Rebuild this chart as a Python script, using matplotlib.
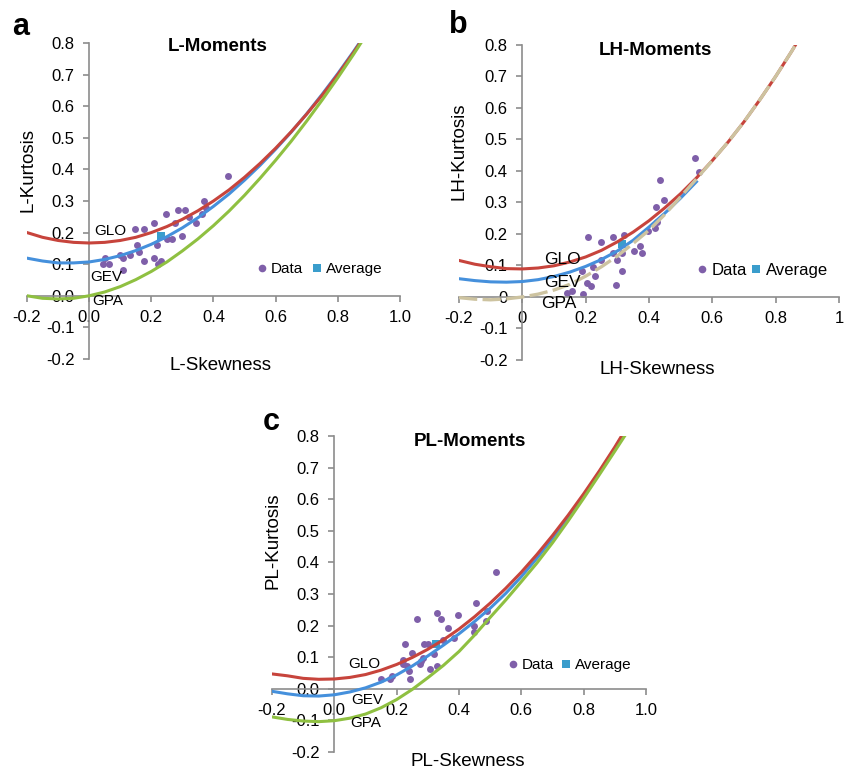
import matplotlib
matplotlib.use('Agg')
import matplotlib.pyplot as plt
from matplotlib.lines import Line2D

plt.rcParams['font.family'] = ['Liberation Sans', 'DejaVu Sans']

# --- skewness grid the theoretical curves were read at ---
sk = [-0.2, -0.15, -0.1, -0.05, 0.0, 0.05, 0.1, 0.15, 0.2, 0.25, 0.3, 0.35,
      0.4, 0.45, 0.5, 0.55, 0.6, 0.65, 0.7, 0.75, 0.8, 0.85, 0.9]
sk_long = sk + [0.95]
sk_short = sk[:16]

# --- a: L-moments ---
glo_a = [0.200, 0.185, 0.175, 0.169, 0.167, 0.169, 0.175, 0.185, 0.200, 0.219, 0.242, 0.269,
         0.300, 0.335, 0.375, 0.419, 0.467, 0.519, 0.575, 0.635, 0.700, 0.769, 0.842]
gev_a = [0.119, 0.110, 0.104, 0.104, 0.107, 0.115, 0.127, 0.143, 0.163, 0.187, 0.215, 0.247,
         0.283, 0.322, 0.366, 0.413, 0.464, 0.518, 0.576, 0.638, 0.703, 0.772, 0.844]
gpa_a = [0.000, -0.008, -0.010, -0.008, 0.000, 0.012, 0.029, 0.051, 0.077, 0.107, 0.142, 0.180,
         0.222, 0.268, 0.318, 0.372, 0.429, 0.489, 0.553, 0.620, 0.690, 0.763, 0.839]
skew_a = [0.448, 0.368, 0.376, 0.364, 0.287, 0.309, 0.248, 0.322, 0.275, 0.343, 0.209, 0.148,
          0.178, 0.298, 0.250, 0.266, 0.218, 0.154, 0.159, 0.132, 0.098, 0.109, 0.052, 0.209,
          0.046, 0.065, 0.175, 0.231, 0.220, 0.109]
kurt_a = [0.379, 0.300, 0.279, 0.260, 0.270, 0.270, 0.260, 0.250, 0.230, 0.230, 0.230, 0.210,
          0.210, 0.190, 0.180, 0.180, 0.160, 0.160, 0.140, 0.130, 0.130, 0.120, 0.120, 0.120,
          0.100, 0.100, 0.110, 0.110, 0.100, 0.080]
avg_a = (0.232, 0.190)

# --- b: LH-moments ---
glo_b = [0.116, 0.104, 0.096, 0.090, 0.089, 0.092, 0.099, 0.111, 0.127, 0.148, 0.175, 0.206,
         0.242, 0.283, 0.328, 0.378, 0.433, 0.492, 0.556, 0.626, 0.700, 0.779, 0.862]
gev_b = [0.058, 0.052, 0.048, 0.047, 0.049, 0.055, 0.065, 0.079, 0.097, 0.119, 0.146, 0.180,
         0.222, 0.266, 0.314, 0.366]
gpa_b = [-0.002, -0.007, -0.009, -0.006, 0.000, 0.009, 0.022, 0.040, 0.066, 0.096, 0.130, 0.170,
         0.212, 0.262, 0.318, 0.375, 0.433, 0.492, 0.556, 0.626, 0.700, 0.779, 0.862]
skew_b = [0.545, 0.435, 0.559, 0.447, 0.422, 0.424, 0.419, 0.396, 0.372, 0.379, 0.354, 0.287,
          0.322, 0.208, 0.248, 0.314, 0.300, 0.316, 0.247, 0.223, 0.229, 0.205, 0.216, 0.295,
          0.191, 0.142, 0.156, 0.187, 0.287]
kurt_b = [0.440, 0.371, 0.398, 0.308, 0.285, 0.237, 0.218, 0.210, 0.163, 0.141, 0.146, 0.189,
          0.197, 0.189, 0.176, 0.139, 0.117, 0.084, 0.117, 0.096, 0.067, 0.043, 0.036, 0.038,
          0.010, 0.014, 0.019, 0.084, 0.139]
avg_b = (0.316, 0.168)

# --- c: PL-moments ---
glo_c = [0.047, 0.041, 0.033, 0.030, 0.031, 0.036, 0.045, 0.059, 0.077, 0.099, 0.125, 0.155,
         0.189, 0.228, 0.271, 0.318, 0.369, 0.425, 0.485, 0.549, 0.617, 0.689, 0.765, 0.846]
gev_c = [-0.008, -0.016, -0.022, -0.023, -0.019, -0.010, 0.003, 0.021, 0.044, 0.072, 0.104, 0.138,
         0.174, 0.213, 0.255, 0.302, 0.355, 0.413, 0.476, 0.543, 0.612, 0.685, 0.761, 0.842]
gpa_c = [-0.089, -0.097, -0.102, -0.104, -0.101, -0.093, -0.080, -0.060, -0.034, -0.002, 0.035, 0.074,
         0.118, 0.170, 0.226, 0.281, 0.339, 0.398, 0.462, 0.531, 0.603, 0.677, 0.752, 0.828]
skew_c = [0.518, 0.454, 0.489, 0.486, 0.448, 0.448, 0.398, 0.330, 0.342, 0.264, 0.364, 0.385,
          0.350, 0.227, 0.289, 0.299, 0.248, 0.321, 0.285, 0.275, 0.221, 0.232, 0.239, 0.242,
          0.307, 0.328, 0.149, 0.178, 0.186, 0.219, 0.278]
kurt_c = [0.371, 0.270, 0.247, 0.213, 0.199, 0.181, 0.232, 0.241, 0.220, 0.220, 0.192, 0.160,
          0.155, 0.141, 0.142, 0.142, 0.113, 0.111, 0.097, 0.078, 0.078, 0.071, 0.055, 0.032,
          0.062, 0.073, 0.032, 0.032, 0.041, 0.092, 0.089]
avg_c = (0.326, 0.142)

x_ticks = [-0.2, 0.0, 0.2, 0.4, 0.6, 0.8, 1.0]
y_ticks = [-0.2, -0.1, 0.0, 0.1, 0.2, 0.3, 0.4, 0.5, 0.6, 0.7, 0.8]
x_lab_dec = ['-0.2', '0.0', '0.2', '0.4', '0.6', '0.8', '1.0']
y_lab_dec = ['-0.2', '-0.1', '0.0', '0.1', '0.2', '0.3', '0.4', '0.5', '0.6', '0.7', '0.8']
x_lab_gen = ['-0.2', '0', '0.2', '0.4', '0.6', '0.8', '1']
y_lab_gen = ['-0.2', '-0.1', '0', '0.1', '0.2', '0.3', '0.4', '0.5', '0.6', '0.7', '0.8']

RED = '#c7443c'
BLUE = '#4590dc'
GREEN = '#8fc041'
TAN = '#cdc3a0'
PURPLE = '#7f5fa9'
AQUA = '#3a9dcc'
GRAY = '#8c8c8c'


def setup(ax, xl, yl):
    ax.set_xlim(-0.2, 1.0)
    ax.set_ylim(-0.2, 0.8)
    for s in ['top', 'right']:
        ax.spines[s].set_visible(False)
    ax.spines['left'].set_position(('data', 0))
    ax.spines['bottom'].set_position(('data', 0))
    for s in ['left', 'bottom']:
        ax.spines[s].set_color(GRAY)
        ax.spines[s].set_linewidth(1.2)
    ax.set_xticks(x_ticks)
    ax.set_xticklabels(xl)
    ax.set_yticks(y_ticks)
    ax.set_yticklabels(yl)
    ax.tick_params(direction='out', length=4, width=1.2, color=GRAY, labelsize=12)
    ax.tick_params(axis='x', pad=6)
    ax.tick_params(axis='y', pad=6.5)
    ax.patch.set_alpha(0)


def scatter(ax, xs, ys, avg):
    ax.plot(xs, ys, 'o', color=PURPLE, markersize=5, markeredgewidth=0, zorder=2)
    ax.plot([avg[0]], [avg[1]], 's', color=AQUA, markersize=6, markeredgewidth=0, zorder=2)


def legend(ax, x, y, size, colsp):
    h = [Line2D([], [], marker='o', ls='none', color=PURPLE, markersize=5.5, markeredgewidth=0),
         Line2D([], [], marker='s', ls='none', color=AQUA, markersize=6, markeredgewidth=0)]
    ax.legend(h, ['Data', 'Average'], loc='center left', bbox_to_anchor=(x, y), ncol=2,
              frameon=False, fontsize=size, handlelength=0.6, handletextpad=0.3,
              columnspacing=colsp, borderpad=0, borderaxespad=0)


fig = plt.figure(figsize=(8.49, 7.7), dpi=100)

# panel a
ax = fig.add_axes([0.0318, 0.5338, 0.4393, 0.4104])
setup(ax, x_lab_dec, y_lab_dec)
scatter(ax, skew_a, kurt_a, avg_a)
ax.plot(sk, gev_a, color=BLUE, lw=2.2, zorder=3)
ax.plot(sk, glo_a, color=RED, lw=2.2, zorder=3)
ax.plot(sk, gpa_a, color=GREEN, lw=2.2, zorder=3)
ax.text(0.412, 0.79, 'L-Moments', fontsize=13.5, fontweight='bold', ha='center', va='center')
ax.text(0.016, 0.205, 'GLO', fontsize=11, va='center')
ax.text(0.004, 0.059, 'GEV', fontsize=11, va='center')
ax.text(0.010, -0.017, 'GPA', fontsize=11, va='center')
legend(ax, 0.617, 0.285, 11, 0.6)
fig.text(0.0244, 0.9653, 'a', fontsize=22, fontweight='bold', ha='center', va='center')
fig.text(0.033, 0.7786, 'L-Kurtosis', fontsize=13.5, rotation=90, ha='center', va='center')
fig.text(0.2597, 0.5247, 'L-Skewness', fontsize=13.5, ha='center', va='center')

# panel b
ax = fig.add_axes([0.5406, 0.5325, 0.4476, 0.4091])
setup(ax, x_lab_gen, y_lab_gen)
scatter(ax, skew_b, kurt_b, avg_b)
ax.plot(sk, glo_b, color=RED, lw=2.2, zorder=3)
ax.plot(sk_short, gev_b, color=BLUE, lw=2.2, zorder=3)
ax.plot(sk, gpa_b, color=TAN, lw=2.4, dashes=(5.5, 1.6), zorder=3)
ax.text(0.42, 0.782, 'LH-Moments', fontsize=13.5, fontweight='bold', ha='center', va='center')
ax.text(0.069, 0.120, 'GLO', fontsize=12.5, va='center')
ax.text(0.069, 0.045, 'GEV', fontsize=12.5, va='center')
ax.text(0.058, -0.020, 'GPA', fontsize=12.5, va='center')
legend(ax, 0.626, 0.283, 12, 0.2)
fig.text(0.5398, 0.9675, 'b', fontsize=22, fontweight='bold', ha='center', va='center')
fig.text(0.5406, 0.803, 'LH-Kurtosis', fontsize=13.5, rotation=90, ha='center', va='center')
fig.text(0.7744, 0.5204, 'LH-Skewness', fontsize=13.5, ha='center', va='center')

# panel c
ax = fig.add_axes([0.3204, 0.0234, 0.4405, 0.4104])
setup(ax, x_lab_dec, y_lab_dec)
scatter(ax, skew_c, kurt_c, avg_c)
ax.plot(sk_long, gev_c, color=BLUE, lw=2.2, zorder=3)
ax.plot(sk_long, glo_c, color=RED, lw=2.2, zorder=3)
ax.plot(sk_long, gpa_c, color=GREEN, lw=2.2, zorder=3)
ax.text(0.434, 0.781, 'PL-Moments', fontsize=13.5, fontweight='bold', ha='center', va='center')
ax.text(0.044, 0.079, 'GLO', fontsize=11, va='center')
ax.text(0.055, -0.037, 'GEV', fontsize=11, va='center')
ax.text(0.052, -0.108, 'GPA', fontsize=11, va='center')
legend(ax, 0.631, 0.274, 11, 0.5)
fig.text(0.32, 0.4523, 'c', fontsize=22, fontweight='bold', ha='center', va='center')
fig.text(0.3219, 0.2977, 'PL-Kurtosis', fontsize=13.5, rotation=90, ha='center', va='center')
fig.text(0.5512, 0.0108, 'PL-Skewness', fontsize=13.5, ha='center', va='center')

fig.savefig('out.png', dpi=100)
